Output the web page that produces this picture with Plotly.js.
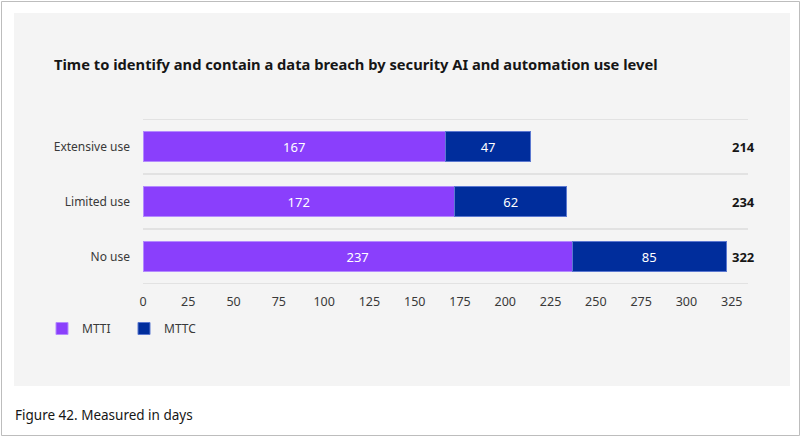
<!DOCTYPE html>
<html>
<head>
<meta charset="utf-8">
<script src="https://cdn.plot.ly/plotly-3.0.1.min.js"></script>
<style>
  html, body { margin: 0; padding: 0; background: #ffffff; }
  #chart { width: 802px; height: 438px; }
</style>
</head>
<body>
<div id="chart"></div>
<script>
// ---- Data ----
const categories = ['Extensive use', 'Limited use', 'No use'];
const mtti = [167, 172, 237];
const mttc = [47, 62, 85];
const totals = [214, 234, 322];
const xTickValues = [0, 25, 50, 75, 100, 125, 150, 175, 200, 225, 250, 275, 300, 325];
const seriesNames = ['MTTI', 'MTTC'];
const titleText = 'Time to identify and contain a data breach by security AI and automation use level';
const captionText = 'Figure 42. Measured in days';

// ---- Layout geometry (pixels) ----
const W = 802, H = 438;
const L = 143, R = 748, T = 119, B = 284;
const pw = R - L, ph = B - T;
const px = v => (v - L) / pw;
const py = v => (B - v) / ph;

const FONT = 'Noto Sans, Open Sans, sans-serif';

const traces = [
  {
    type: 'bar', orientation: 'h', name: seriesNames[0],
    y: categories, x: mtti, text: mtti.map(String),
    textposition: 'inside', insidetextanchor: 'middle',
    textfont: { color: '#ffffff', size: 13, family: FONT },
    marker: { color: '#8a3ffc', line: { color: '#b48aff', width: 1 } },
    hoverinfo: 'x+name'
  },
  {
    type: 'bar', orientation: 'h', name: seriesNames[1],
    y: categories, x: mttc, text: mttc.map(String),
    textposition: 'inside', insidetextanchor: 'middle',
    textfont: { color: '#ffffff', size: 13, family: FONT },
    marker: { color: '#002d9c', line: { color: '#5b78d0', width: 1 } },
    hoverinfo: 'x+name'
  }
];

const shapes = [
  // outer card border
  { type: 'rect', xref: 'paper', yref: 'paper', layer: 'below',
    x0: px(1.5), x1: px(799.5), y0: py(435.5), y1: py(1.5),
    line: { color: '#bdbdbd', width: 1 }, fillcolor: '#ffffff' },
  // gray panel
  { type: 'rect', xref: 'paper', yref: 'paper', layer: 'below',
    x0: px(14), x1: px(790), y0: py(386), y1: py(13),
    line: { width: 0 }, fillcolor: '#f4f4f4' }
];
for (let i = 0; i <= categories.length; i++) {
  shapes.push({ type: 'line', xref: 'paper', yref: 'y', layer: 'below',
    x0: 0, x1: 1, y0: i - 0.5, y1: i - 0.5,
    line: { color: '#dcdcdc', width: 1.5 } });
}

const annotations = categories.map((c, i) => ({
  xref: 'paper', yref: 'y', x: px(730), y: c,
  xanchor: 'left', yanchor: 'middle', showarrow: false,
  text: String(totals[i]),
  font: { family: FONT, size: 13, color: '#161616', weight: 700 }
}));
annotations.push({
  xref: 'paper', yref: 'paper', x: px(13), y: py(415),
  xanchor: 'left', yanchor: 'middle', showarrow: false,
  text: captionText,
  font: { family: FONT, size: 13.5, color: '#161616' }
});

const layout = {
  width: W, height: H,
  margin: { l: L, r: W - R, t: T, b: H - B, pad: 0 },
  paper_bgcolor: '#ffffff',
  plot_bgcolor: 'rgba(0,0,0,0)',
  barmode: 'stack',
  bargap: 0.47,
  showlegend: true,
  title: {
    text: titleText,
    x: 54 / W, xref: 'container', xanchor: 'left',
    y: 1 - 65 / H, yref: 'container', yanchor: 'middle',
    font: { family: FONT, size: 14.7, color: '#161616', weight: 700 }
  },
  xaxis: {
    range: [0, 334], tickvals: xTickValues, showgrid: false, zeroline: false,
    showline: false, ticks: '', ticklabelstandoff: 8,
    tickfont: { family: FONT, size: 12.5, color: '#393939' }, fixedrange: true
  },
  yaxis: {
    type: 'category', range: [2.5, -0.5], showgrid: false, zeroline: false,
    showline: false, ticks: '', ticklabelstandoff: 12,
    tickfont: { family: FONT, size: 12, color: '#393939' }, fixedrange: true
  },
  legend: {
    orientation: 'h', x: px(42), xanchor: 'left', y: py(314), yanchor: 'top',
    bgcolor: 'rgba(0,0,0,0)', itemwidth: 30, traceorder: 'normal',
    entrywidth: 37, entrywidthmode: 'pixels',
    font: { family: FONT, size: 12, color: '#393939' }
  },
  shapes: shapes,
  annotations: annotations
};

Plotly.newPlot('chart', traces, layout, { displayModeBar: false, staticPlot: true });
</script>
</body>
</html>
